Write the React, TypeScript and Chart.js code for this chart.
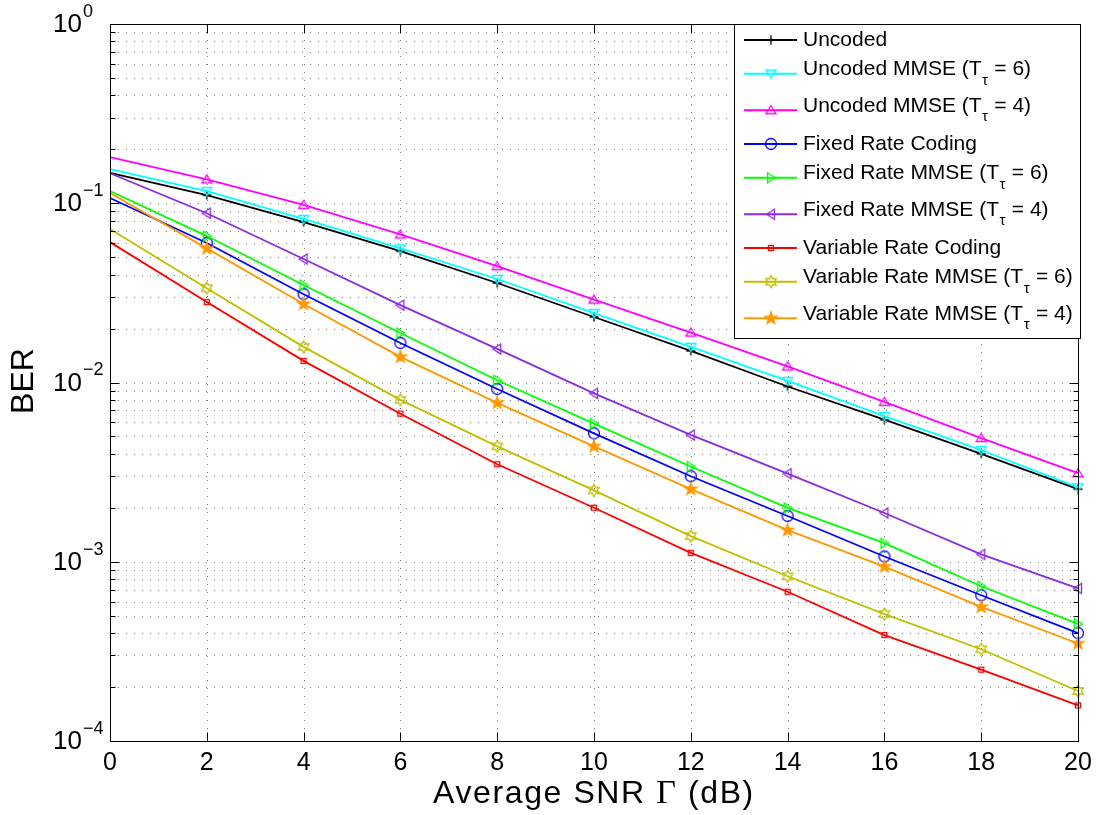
import React, { useEffect, useRef } from 'react';
import { Chart, registerables } from 'chart.js';

Chart.register(...registerables);

// ---------- data ----------
const SNR_DB = [0, 2, 4, 6, 8, 10, 12, 14, 16, 18, 20];
const UNCODED = [0.1475, 0.111, 0.0785, 0.054, 0.0359, 0.0232, 0.015, 0.0095, 0.0062, 0.004, 0.00254];
const UNCODED_MMSE_6 = [0.155, 0.117, 0.0817, 0.056, 0.0378, 0.0244, 0.0158, 0.0102, 0.0065, 0.0042, 0.0026];
const UNCODED_MMSE_4 = [0.181, 0.136, 0.098, 0.067, 0.0446, 0.029, 0.019, 0.0123, 0.0078, 0.0049, 0.00312];
const FIXED = [0.107, 0.06, 0.0311, 0.0166, 0.0092, 0.0052, 0.003, 0.0018, 0.00107, 0.00065, 0.0004];
const FIXED_MMSE_6 = [0.117, 0.0656, 0.035, 0.0189, 0.0103, 0.0059, 0.0034, 0.002, 0.00127, 0.00073, 0.00045];
const FIXED_MMSE_4 = [0.147, 0.088, 0.0489, 0.027, 0.0154, 0.0087, 0.0051, 0.0031, 0.00187, 0.0011, 0.00071];
const VARIABLE = [0.0607, 0.0281, 0.0132, 0.0067, 0.0035, 0.002, 0.00112, 0.00068, 0.00039, 0.00025, 0.000158];
const VARIABLE_MMSE_6 = [0.0718, 0.0336, 0.0158, 0.008, 0.0044, 0.0025, 0.00139, 0.00083, 0.00051, 0.000325, 0.00019];
const VARIABLE_MMSE_4 = [0.114, 0.056, 0.0274, 0.0139, 0.0077, 0.0044, 0.00254, 0.0015, 0.00094, 0.00056, 0.00035];

const X_TICKS = [0, 2, 4, 6, 8, 10, 12, 14, 16, 18, 20];
const Y_DECADES = [-4, -3, -2, -1, 0];
const X_TITLE_PARTS = ['Average SNR ', 'Γ', ' (dB)'];
const Y_TITLE = 'BER';

const LABELS = [
  'Uncoded',
  'Uncoded MMSE (T_τ = 6)',
  'Uncoded MMSE (T_τ = 4)',
  'Fixed Rate Coding',
  'Fixed Rate MMSE (T_τ = 6)',
  'Fixed Rate MMSE (T_τ = 4)',
  'Variable Rate Coding',
  'Variable Rate MMSE (T_τ = 6)',
  'Variable Rate MMSE (T_τ = 4)',
];
const SERIES_DATA = [UNCODED, UNCODED_MMSE_6, UNCODED_MMSE_4, FIXED, FIXED_MMSE_6, FIXED_MMSE_4, VARIABLE, VARIABLE_MMSE_6, VARIABLE_MMSE_4];
const COLORS = ['#000000', '#00ffff', '#ff00ff', '#0000ff', '#00ff00', '#8a2be2', '#ff0000', '#bfbf00', '#ff9900'];
const MARKERS = ['plus', 'triDown', 'triUp', 'circle', 'triRight', 'triLeft', 'square', 'hexagram', 'pentagram'];

const SANS = "'Liberation Sans', Arial, Helvetica, sans-serif";
const SERIF = "'Liberation Serif', 'Times New Roman', serif";
const LINE_W = 1.8;

function makeMarker(kind: string, color: string): HTMLCanvasElement {
  const S = 20;
  const c = document.createElement('canvas');
  c.width = S;
  c.height = S;
  const g = c.getContext('2d') as CanvasRenderingContext2D;
  g.translate(S / 2, S / 2);
  g.strokeStyle = color;
  g.fillStyle = color;
  g.lineWidth = 1.3;
  const poly = (pts: number[][], fill = false) => {
    g.beginPath();
    pts.forEach(([x, y], i) => (i ? g.lineTo(x, y) : g.moveTo(x, y)));
    g.closePath();
    if (fill) g.fill();
    g.stroke();
  };
  const star = (n: number, ro: number, ri: number) => {
    const pts: number[][] = [];
    for (let k = 0; k < 2 * n; k++) {
      const r = k % 2 ? ri : ro;
      const a = -Math.PI / 2 + (k * Math.PI) / n;
      pts.push([r * Math.cos(a), r * Math.sin(a)]);
    }
    return pts;
  };
  switch (kind) {
    case 'plus':
      g.beginPath();
      g.moveTo(-4.5, 0); g.lineTo(4.5, 0);
      g.moveTo(0, -4.5); g.lineTo(0, 4.5);
      g.stroke();
      break;
    case 'triDown': poly([[-5, -3.5], [5, -3.5], [0, 4.5]]); break;
    case 'triUp': poly([[0, -4.5], [5, 3.5], [-5, 3.5]]); break;
    case 'circle':
      g.beginPath(); g.arc(0, 0, 5.5, 0, Math.PI * 2); g.stroke();
      break;
    case 'triRight': poly([[-3.5, -5], [4.5, 0], [-3.5, 5]]); break;
    case 'triLeft': poly([[3.5, -5], [-4.5, 0], [3.5, 5]]); break;
    case 'square': g.strokeRect(-2.5, -2.5, 5, 5); break;
    case 'hexagram': poly(star(6, 6, 3.46)); break;
    case 'pentagram': poly(star(5, 6.5, 2.6), true); break;
  }
  return c;
}

function drawLabelWithSub(ctx: CanvasRenderingContext2D, text: string, x: number, y: number) {
  const parts = text.split('_');
  ctx.textBaseline = 'middle';
  ctx.textAlign = 'left';
  if (parts.length === 1) {
    ctx.font = `21px ${SANS}`;
    ctx.fillText(text, x, y);
    return;
  }
  const pre = parts[0];
  const sub = parts[1].charAt(0);
  const post = parts[1].slice(1);
  ctx.font = `21px ${SANS}`;
  ctx.fillText(pre, x, y);
  let cx = x + ctx.measureText(pre).width;
  ctx.font = `15px ${SANS}`;
  ctx.textBaseline = 'alphabetic';
  ctx.fillText(sub, cx + 0.5, y + 15);
  cx += ctx.measureText(sub).width + 1;
  ctx.font = `21px ${SANS}`;
  ctx.textBaseline = 'middle';
  ctx.fillText(post, cx, y);
}

const matlabPlugin = {
  id: 'matlabLook',
  beforeDatasetsDraw(chart: any) {
    const { ctx, chartArea: a, scales } = chart;
    const xs = scales.x;
    const ys = scales.y;
    ctx.save();
    ctx.strokeStyle = '#7a7a7a';
    ctx.lineWidth = 1;
    ctx.setLineDash([1, 7]);
    for (let e = -4; e <= -1; e++) {
      for (let m = 1; m <= 9; m++) {
        if (e === -4 && m === 1) continue;
        const y = Math.round(ys.getPixelForValue(m * Math.pow(10, e))) + 0.5;
        ctx.beginPath();
        ctx.moveTo(a.left, y);
        ctx.lineTo(a.right, y);
        ctx.stroke();
      }
    }
    X_TICKS.slice(1, -1).forEach((v) => {
      const x = Math.round(xs.getPixelForValue(v)) + 0.5;
      ctx.beginPath();
      ctx.moveTo(x, a.top);
      ctx.lineTo(x, a.bottom);
      ctx.stroke();
    });
    ctx.restore();
  },
  afterDatasetsDraw(chart: any) {
    const { ctx, chartArea: a, scales } = chart;
    const xs = scales.x;
    const ys = scales.y;
    ctx.save();
    ctx.setLineDash([]);
    ctx.strokeStyle = '#000';
    ctx.lineWidth = 1;
    // box
    const L = Math.round(a.left) + 0.5, R = Math.round(a.right) + 0.5;
    const T = Math.round(a.top) + 0.5, B = Math.round(a.bottom) + 0.5;
    ctx.strokeRect(L, T, R - L, B - T);
    // y ticks
    for (let e = -4; e <= 0; e++) {
      for (let m = 1; m <= 9; m++) {
        if (e === 0 && m > 1) break;
        const y = Math.round(ys.getPixelForValue(m * Math.pow(10, e))) + 0.5;
        const len = m === 1 ? 9 : 5;
        ctx.beginPath();
        ctx.moveTo(L, y); ctx.lineTo(L + len, y);
        ctx.moveTo(R, y); ctx.lineTo(R - len, y);
        ctx.stroke();
      }
    }
    // x ticks
    X_TICKS.forEach((v) => {
      const x = Math.round(xs.getPixelForValue(v)) + 0.5;
      ctx.beginPath();
      ctx.moveTo(x, B); ctx.lineTo(x, B - 9);
      ctx.moveTo(x, T); ctx.lineTo(x, T + 9);
      ctx.stroke();
    });
    // x tick labels
    ctx.fillStyle = '#000';
    ctx.font = `25px ${SANS}`;
    ctx.textAlign = 'center';
    ctx.textBaseline = 'middle';
    X_TICKS.forEach((v) => {
      ctx.fillText(String(v), xs.getPixelForValue(v), a.bottom + 22);
    });
    // y tick labels
    Y_DECADES.forEach((e) => {
      const y = ys.getPixelForValue(Math.pow(10, e));
      ctx.font = `26px ${SANS}`;
      ctx.textAlign = 'right';
      ctx.textBaseline = 'middle';
      ctx.fillText('10', a.left - 28, y + 1);
      ctx.font = `18px ${SANS}`;
      ctx.textAlign = 'left';
      ctx.fillText(e === 0 ? '0' : '\u2212' + String(-e), a.left - 27, y - 12);
    });
    // x title
    ctx.textBaseline = 'middle';
    ctx.textAlign = 'left';
    const fonts = [`32px ${SANS}`, `34px ${SERIF}`, `32px ${SANS}`];
    (ctx as any).letterSpacing = '1.6px';
    let total = 0;
    const widths = X_TITLE_PARTS.map((p, i) => {
      ctx.font = fonts[i];
      const w = ctx.measureText(p).width;
      total += w;
      return w;
    });
    let tx = (a.left + a.right) / 2 - total / 2;
    X_TITLE_PARTS.forEach((p, i) => {
      ctx.font = fonts[i];
      ctx.fillText(p, tx, a.bottom + 53);
      tx += widths[i];
    });
    (ctx as any).letterSpacing = '0px';
    // y title
    ctx.save();
    ctx.translate(24, 381);
    ctx.rotate(-Math.PI / 2);
    ctx.font = `32px ${SANS}`;
    ctx.textAlign = 'center';
    ctx.textBaseline = 'middle';
    ctx.fillText(Y_TITLE, 0, 0);
    ctx.restore();

    // legend
    const lx = 734, ly = 24, lw = 346;
    let hsum = 0;
    const rows = LABELS.map((lab) => {
      const h = lab.includes('_') ? 36.5 : 31;
      const r = { top: ly + 0.5 + hsum, h, sub: lab.includes('_') };
      hsum += h;
      return r;
    });
    const lh = hsum + 2;
    ctx.fillStyle = '#fff';
    ctx.fillRect(lx, ly, lw, lh);
    ctx.strokeStyle = '#000';
    ctx.lineWidth = 1;
    ctx.strokeRect(lx + 0.5, ly + 0.5, lw, lh);
    const metas = chart.data.datasets;
    LABELS.forEach((lab, i) => {
      const r = rows[i];
      const lineY = r.top + r.h / 2;
      const textY = r.sub ? r.top + 14 : lineY + 0.5;
      ctx.strokeStyle = COLORS[i];
      ctx.lineWidth = LINE_W;
      ctx.beginPath();
      ctx.moveTo(744, lineY);
      ctx.lineTo(797, lineY);
      ctx.stroke();
      const mk = metas[i].pointStyle as HTMLCanvasElement;
      ctx.drawImage(mk, 771 - mk.width / 2, lineY - mk.height / 2);
      ctx.fillStyle = '#000';
      drawLabelWithSub(ctx, lab, 803, textY);
    });
    ctx.restore();
  },
};

export default function App() {
  const ref = useRef<HTMLCanvasElement | null>(null);
  useEffect(() => {
    if (!ref.current) return;
    const datasets = SERIES_DATA.map((arr, i) => ({
      label: LABELS[i],
      data: arr.map((v, k) => ({ x: SNR_DB[k], y: v })),
      borderColor: COLORS[i],
      backgroundColor: 'transparent',
      borderWidth: LINE_W,
      pointStyle: makeMarker(MARKERS[i], COLORS[i]),
      pointRadius: SNR_DB.map((x) => (x === 0 ? 0 : 5)),
      pointHoverRadius: 0,
      tension: 0,
      clip: false as any,
      order: SERIES_DATA.length - i,
    }));
    const chart = new Chart(ref.current, {
      type: 'line',
      data: { datasets },
      options: {
        responsive: false,
        animation: false,
        devicePixelRatio: 1,
        layout: { padding: { left: 110, top: 24, right: 21, bottom: 74 } },
        plugins: { legend: { display: false }, tooltip: { enabled: false }, title: { display: false } },
        scales: {
          x: { type: 'linear', min: 0, max: 20, display: false },
          y: { type: 'logarithmic', min: 1e-4, max: 1, display: false },
        },
      },
      plugins: [matlabPlugin],
    });
    return () => chart.destroy();
  }, []);
  return (
    <div style={{ position: 'fixed', left: 0, top: 0, width: 1099, height: 815, background: '#fff' }}>
      <canvas ref={ref} width={1099} height={815} style={{ display: 'block' }} />
    </div>
  );
}
